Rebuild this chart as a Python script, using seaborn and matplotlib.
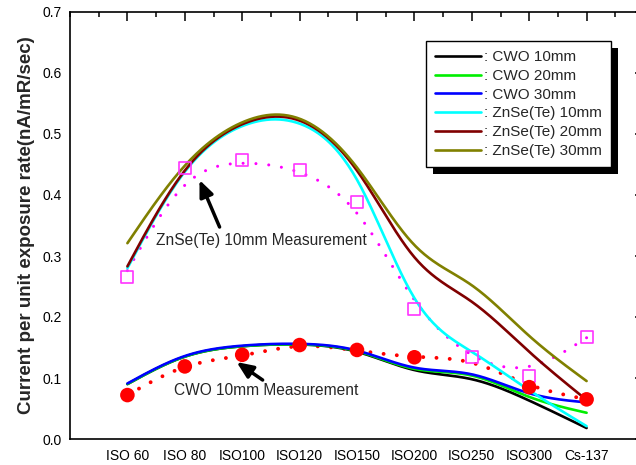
import numpy as np
import matplotlib
matplotlib.use("Agg")
import matplotlib.pyplot as plt
import seaborn as sns
from matplotlib.patches import Rectangle
from matplotlib.transforms import IdentityTransform
from matplotlib.ticker import MultipleLocator, FormatStrFormatter

# Source categories on the x axis
sources = ["ISO 60", "ISO 80", "ISO100", "ISO120", "ISO150", "ISO200", "ISO250", "ISO300", "Cs-137"]

# Simulated response curves (values read at each source)
cwo_10 = [0.090, 0.135, 0.152, 0.155, 0.143, 0.113, 0.098, 0.063, 0.018]
cwo_20 = [0.090, 0.135, 0.152, 0.155, 0.144, 0.115, 0.104, 0.069, 0.043]
cwo_30 = [0.091, 0.136, 0.153, 0.156, 0.145, 0.117, 0.106, 0.075, 0.060]
znse_10 = [0.280, 0.438, 0.513, 0.517, 0.425, 0.231, 0.143, 0.080, 0.021]
znse_20 = [0.283, 0.440, 0.516, 0.522, 0.440, 0.298, 0.225, 0.143, 0.064]
znse_30 = [0.321, 0.448, 0.519, 0.525, 0.445, 0.318, 0.252, 0.169, 0.095]

# Measurements (no CWO point was plotted at ISO250)
znse_meas = [0.266, 0.445, 0.458, 0.441, 0.389, 0.213, 0.135, 0.103, 0.167]
cwo_meas = [0.072, 0.119, 0.138, 0.154, 0.146, 0.134, np.nan, 0.085, 0.065]

# Fitted (dotted) curves through the measurements, read at each source
znse_fit = [0.276, 0.416, 0.452, 0.437, 0.370, 0.228, 0.138, 0.119, 0.166]
cwo_fit = [0.072, 0.118, 0.137, 0.152, 0.145, 0.135, 0.125, 0.089, 0.065]

series = [
    (": CWO 10mm", cwo_10, "#000000"),
    (": CWO 20mm", cwo_20, "#00ee00"),
    (": CWO 30mm", cwo_30, "#0000ff"),
    (": ZnSe(Te) 10mm", znse_10, "#00ffff"),
    (": ZnSe(Te) 20mm", znse_20, "#800000"),
    (": ZnSe(Te) 30mm", znse_30, "#808000"),
]


def spline(vals, n=40):
    # natural cubic spline through the points, used only to draw smooth curves
    y = np.asarray(vals, float)
    m = len(y)
    A = np.zeros((m, m))
    b = np.zeros(m)
    A[0, 0] = A[-1, -1] = 1
    for i in range(1, m - 1):
        A[i, i - 1:i + 2] = [1, 4, 1]
        b[i] = 6 * (y[i + 1] - 2 * y[i] + y[i - 1])
    M = np.linalg.solve(A, b)
    xs = np.linspace(0, m - 1, (m - 1) * n + 1)
    i = np.minimum(xs.astype(int), m - 2)
    t = xs - i
    s = 1 - t
    ys = s * y[i] + t * y[i + 1] + (s ** 3 - s) * M[i] / 6 + (t ** 3 - t) * M[i + 1] / 6
    return xs, ys


sns.set_theme(style="white")
plt.rcParams["font.family"] = ["Liberation Sans", "DejaVu Sans"]

fig = plt.figure(figsize=(6.36, 4.65), dpi=100)
ax = fig.add_axes([70 / 636, 26 / 465, 574 / 636, 427 / 465])

# fitted dotted curves
xs, ys = spline(znse_fit)
ax.plot(xs, ys, color="#ff00ff", lw=2.2, linestyle=(0, (0.01, 4.2)),
        dash_capstyle="round", zorder=2)
xs, ys = spline(cwo_fit)
ax.plot(xs, ys, color="#ff0000", lw=2.8, linestyle=(0, (0.01, 3.4)),
        dash_capstyle="round", zorder=2)

handles = []
for label, vals, col in series:
    xs, ys = spline(vals)
    sns.lineplot(x=xs, y=ys, color=col, lw=1.9, sort=False, estimator=None, ax=ax, zorder=3)
    handles.append(ax.lines[-1])

idx = np.arange(len(sources))
sns.scatterplot(x=idx, y=znse_meas, marker="s", s=75, facecolor="none",
                edgecolor="#ff33ff", linewidth=1.2, ax=ax, zorder=4)
sns.scatterplot(x=idx, y=cwo_meas, marker="o", s=110,
                color="#ff0000", edgecolor="none", ax=ax, zorder=4)

ax.set_xlim(-1, 9)
ax.set_ylim(0, 0.7)
ax.set_xticks(idx)
ax.set_xticklabels(sources)
ax.xaxis.set_minor_locator(MultipleLocator(0.5))
ax.yaxis.set_major_locator(MultipleLocator(0.1))
ax.yaxis.set_minor_locator(MultipleLocator(0.05))
ax.yaxis.set_major_formatter(FormatStrFormatter("%.1f"))
ax.tick_params(which="both", direction="in", top=True, right=True, width=1.1, colors="black")
ax.tick_params(which="major", length=6.5, labelsize=10)
ax.tick_params(which="minor", length=3.5)
ax.tick_params(axis="x", pad=7)
ax.tick_params(axis="y", pad=6)
for sp in ax.spines.values():
    sp.set_color("black")
    sp.set_linewidth(1.2)
ax.set_xlabel("")
ax.set_ylabel("Current per unit exposure rate(nA/mR/sec)", fontsize=13.5,
              fontweight="bold", labelpad=5)

arrow = dict(arrowstyle="-|>,head_length=0.7,head_width=0.3", lw=2.5, color="black",
             shrinkA=0, shrinkB=0, mutation_scale=14)
ax.annotate("", xy=(1.256, 0.4246), xytext=(1.606, 0.3475), arrowprops=arrow)
ax.text(0.50, 0.3246, "ZnSe(Te) 10mm Measurement", fontsize=11.2, va="center", ha="left")
ax.annotate("", xy=(1.902, 0.1262), xytext=(2.356, 0.0967), arrowprops=arrow)
ax.text(0.82, 0.0803, "CWO 10mm Measurement", fontsize=11.2, va="center", ha="left")

leg = ax.legend(handles, [s[0] for s in series], loc="upper left",
                bbox_to_anchor=(0.620, 0.932), borderaxespad=0, fontsize=11,
                handlelength=3.0, handletextpad=0.2, labelspacing=0.31,
                borderpad=0.6, fancybox=False, framealpha=1, edgecolor="black")
leg.get_frame().set_linewidth(1.0)
leg.set_zorder(10)

fig.canvas.draw()
bb = leg.get_window_extent()
ax.add_patch(Rectangle((bb.x0 + 7, bb.y0 - 7), bb.width, bb.height, facecolor="black",
                       edgecolor="none", transform=IdentityTransform(), clip_on=False,
                       zorder=9))

fig.savefig("out.png", dpi=100)
